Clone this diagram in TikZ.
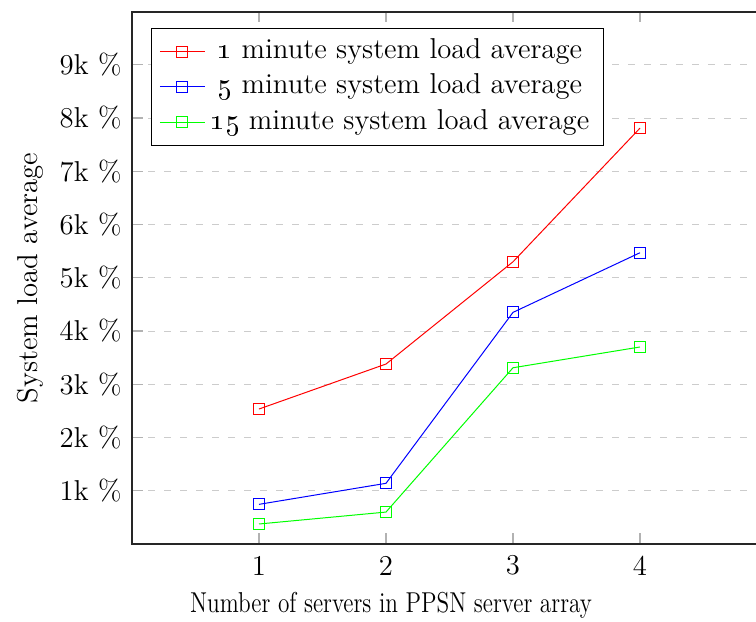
\documentclass[tikz,border=0pt]{standalone}
\usepackage{fix-cm}
\begin{document}
\begin{tikzpicture}[x=0.4pt,y=-0.4pt,
  font=\fontsize{11.5}{14}\selectfont,
  gridline/.style={draw=black!20, line width=0.4pt, dash pattern=on 2.7pt off 3.7pt},
  tickline/.style={draw=black!30, line width=0.5pt},
  axisline/.style={draw=black!85, line width=0.5pt},
  series/.style={line width=0.4pt},
  mk/.style={rectangle, draw, fill=none, minimum size=4.4pt, inner sep=0pt, line width=0.4pt},
  ticklabel/.style={inner sep=0pt},
]
% canvas
\clip (0,0) rectangle (756,622);
\useasboundingbox (0,0) rectangle (756,622);

% plot frame corners (the right edge lies beyond the canvas)
\coordinate (bl) at (132,544);
\coordinate (tl) at (132,12);
\coordinate (br) at (767,544);
\coordinate (tr) at (767,12);

% data area: x in servers, y in thousands of percent
\begin{scope}[shift={(52.8pt,-217.6pt)}, x=50.8pt, y=21.3pt]
  % horizontal dashed grid
  \foreach \v in {1,...,9} {
    \coordinate (gl\v) at (0,\v);
    \coordinate (gr\v) at (5,\v);
    \draw[gridline] (gl\v) -- (gr\v);
  }
  % y ticks and labels
  \foreach \v in {1,...,9} {
    \coordinate (ty\v) at (0.084,\v);
    \draw[tickline] (gl\v) -- (ty\v);
    \node[ticklabel, anchor=east] (yl\v) at ([xshift=-4pt]gl\v) {\v k \%};
  }
  % x ticks and labels
  \foreach \u in {1,...,4} {
    \coordinate (xb\u) at (\u,0);
    \coordinate (xbt\u) at (\u,0.2);
    \coordinate (xt\u) at (\u,10);
    \coordinate (xtt\u) at (\u,9.8);
    \draw[tickline] (xb\u) -- (xbt\u);
    \draw[tickline] (xt\u) -- (xtt\u);
    \node[ticklabel] (xl\u) at ([yshift=-8.6pt]xb\u) {\u};
  }

  % 1 minute average
  \node[mk, draw=red] (r1) at (1,2.535) {};
  \node[mk, draw=red] (r2) at (2,3.38) {};
  \node[mk, draw=red] (r3) at (3,5.30) {};
  \node[mk, draw=red] (r4) at (4,7.81) {};
  \draw[series, red] (r1.center) -- (r2.center) -- (r3.center) -- (r4.center);

  % 5 minute average
  \node[mk, draw=blue] (b1) at (1,0.745) {};
  \node[mk, draw=blue] (b2) at (2,1.14) {};
  \node[mk, draw=blue] (b3) at (3,4.35) {};
  \node[mk, draw=blue] (b4) at (4,5.47) {};
  \draw[series, blue] (b1.center) -- (b2.center) -- (b3.center) -- (b4.center);

  % 15 minute average
  \node[mk, draw=green] (g1) at (1,0.376) {};
  \node[mk, draw=green] (g2) at (2,0.60) {};
  \node[mk, draw=green] (g3) at (3,3.31) {};
  \node[mk, draw=green] (g4) at (4,3.70) {};
  \draw[series, green] (g1.center) -- (g2.center) -- (g3.center) -- (g4.center);
\end{scope}

% axis frame
\draw[axisline] (tr) -- (tl) -- (bl) -- (br);

% legend
\node[draw=black, line width=0.5pt, fill=white, anchor=north west,
      minimum width=180.8pt, minimum height=46.8pt, inner sep=0pt] (legend) at (151,28) {};
\foreach \i/\c/\yy/\txt in {1/red/51.7/{\oldstylenums{1} minute system load average},
                           2/blue/86.7/{\oldstylenums{5} minute system load average},
                           3/green/122/{\oldstylenums{15} minute system load average}} {
  \coordinate (la\i) at (160,\yy);
  \coordinate (lb\i) at (205,\yy);
  \draw[series, \c] (la\i) -- (lb\i);
  \node[mk, draw=\c] (lm\i) at (182.5,\yy) {};
  \node[inner sep=0pt] (lt\i) at (400,\yy) {\txt};
}

% axis titles
\node[rotate=90] (ytitle) at (30,278) {System load average};
\node[xscale=0.81, transform shape] (xtitle) at (391,605) {Number of servers in PPSN server array};
\end{tikzpicture}
\end{document}
